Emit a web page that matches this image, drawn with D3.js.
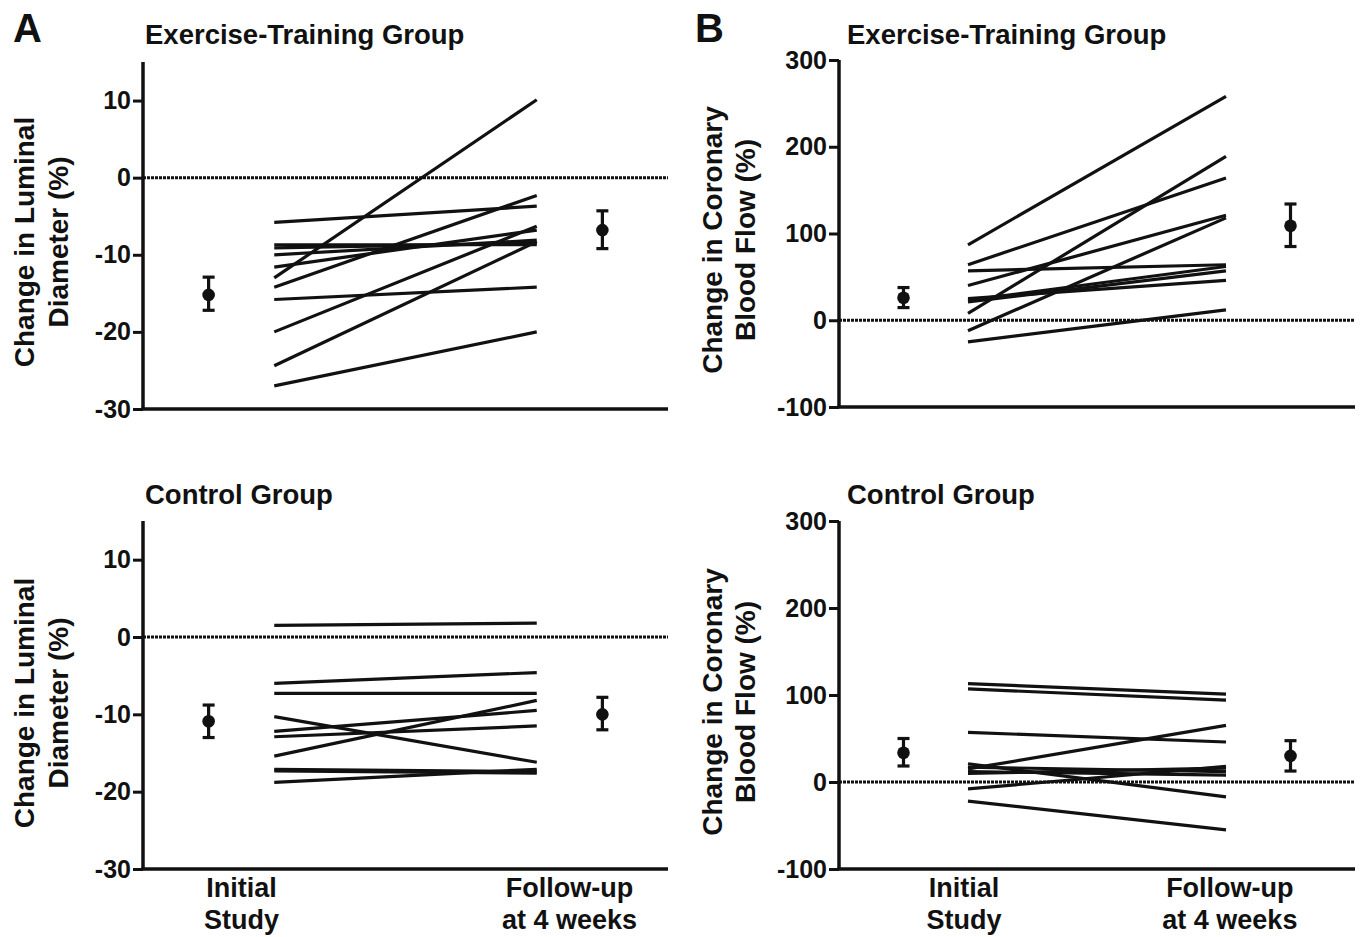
<!DOCTYPE html>
<html>
<head>
<meta charset="utf-8">
<script src="https://cdn.jsdelivr.net/npm/d3@7"></script>
<style>
  body { margin: 0; background: #fff; }
  text { font-family: "Liberation Sans", Arial, Helvetica, sans-serif; font-weight: bold; fill: #111; }
</style>
</head>
<body>
<svg id="chart" width="1361" height="937"></svg>
<script>
// stage positions on the x scale (0..4): means sit outside the paired lines
const stages = [1, 3];
const meanStages = [0.5, 3.5];
const categories = [["Initial", "Study"], ["Follow-up", "at 4 weeks"]];

// A - change in luminal diameter (%)
const diamTrainInitial = [-5.8, -8.7, -9.1, -10.0, -11.6, -13.0, -14.2, -15.8, -20.0, -24.4, -27.0];
const diamTrainFollow  = [-3.7, -8.7, -8.5, -8.1, -6.8, 10.1, -2.3, -14.2, -6.3, -8.3, -20.0];
const diamTrainMean  = [-15.2, -6.8];
const diamTrainLow   = [-17.2, -9.2];
const diamTrainHigh  = [-12.9, -4.3];

const diamCtrlInitial = [1.5, -6.0, -7.3, -10.3, -12.2, -12.9, -15.4, -17.1, -17.3, -18.8];
const diamCtrlFollow  = [1.8, -4.6, -7.3, -16.2, -9.5, -11.5, -8.2, -17.4, -17.6, -17.1];
const diamCtrlMean  = [-10.9, -10.0];
const diamCtrlLow   = [-13.0, -12.0];
const diamCtrlHigh  = [-8.8, -7.8];

const diamTicks = [10, 0, -10, -20, -30];

// B - change in coronary blood flow (%)
const flowTrainInitial = [87, 64, 57, 40, 25, 23, 21, 8, -12, -25];
const flowTrainFollow  = [258, 164, 64, 121, 46, 62, 57, 189, 118, 12];
const flowTrainMean  = [26, 109];
const flowTrainLow   = [14.6, 85];
const flowTrainHigh  = [37.7, 134];

const flowCtrlInitial = [113, 107, 57, 21, 17, 15, 12, 10, -8, -22];
const flowCtrlFollow  = [101, 94, 46, -17, 12, 65, 8, 16, 18, -55];
const flowCtrlMean  = [33.7, 30];
const flowCtrlLow   = [18.4, 12.6];
const flowCtrlHigh  = [50, 47.5];

const flowTicks = [300, 200, 100, 0, -100];

const panels = [
  { title: "Exercise-Training Group", yTitle: ["Change in Luminal", "Diameter (%)"],
    domain: [-30, 15], ticks: diamTicks, x0: 143, x1: 668, top: 62, bottom: 409,
    initial: diamTrainInitial, follow: diamTrainFollow, mean: diamTrainMean, low: diamTrainLow, high: diamTrainHigh,
    titleX: 145, titleY: 44, yTitleX: [34, 68], yTitleY: 242 },
  { title: "Control Group", yTitle: ["Change in Luminal", "Diameter (%)"],
    domain: [-30, 15], ticks: diamTicks, x0: 143, x1: 668, top: 521, bottom: 869,
    initial: diamCtrlInitial, follow: diamCtrlFollow, mean: diamCtrlMean, low: diamCtrlLow, high: diamCtrlHigh,
    titleX: 145, titleY: 504, yTitleX: [34, 68], yTitleY: 703, catAt: [0.75, 3.25] },
  { title: "Exercise-Training Group", yTitle: ["Change in Coronary", "Blood Flow (%)"],
    domain: [-100, 300], ticks: flowTicks, x0: 839, x1: 1355, top: 60, bottom: 407,
    initial: flowTrainInitial, follow: flowTrainFollow, mean: flowTrainMean, low: flowTrainLow, high: flowTrainHigh,
    titleX: 847, titleY: 44, yTitleX: [722, 755], yTitleY: 240 },
  { title: "Control Group", yTitle: ["Change in Coronary", "Blood Flow (%)"],
    domain: [-100, 300], ticks: flowTicks, x0: 839, x1: 1355, top: 521, bottom: 869,
    initial: flowCtrlInitial, follow: flowCtrlFollow, mean: flowCtrlMean, low: flowCtrlLow, high: flowCtrlHigh,
    titleX: 847, titleY: 504, yTitleX: [722, 755], yTitleY: 702, catAt: [0.97, 3.03] }
];

const svg = d3.select("#chart");

// panel letters
svg.append("text").attr("x", 13).attr("y", 42).style("font-size", "40px").text("A");
svg.append("text").attr("x", 695).attr("y", 42).style("font-size", "40px").text("B");

panels.forEach(p => {
  const x = d3.scaleLinear().domain([0, 4]).range([p.x0, p.x1]);
  const y = d3.scaleLinear().domain(p.domain).range([p.bottom, p.top]);
  const g = svg.append("g");

  // title
  g.append("text").attr("x", p.titleX).attr("y", p.titleY)
    .style("font-size", "27.5px").text(p.title);

  // y axis title (two rotated lines)
  p.yTitle.forEach((t, i) => {
    g.append("text")
      .attr("transform", "translate(" + p.yTitleX[i] + "," + p.yTitleY + ") rotate(-90)")
      .attr("text-anchor", "middle")
      .style("font-size", "28px")
      .text(t);
  });

  // y axis, hyphen minus like the original
  const yaxis = d3.axisLeft(y).tickValues(p.ticks).tickSize(10).tickPadding(2).tickFormat(d => String(d));
  const ya = g.append("g").attr("transform", "translate(" + p.x0 + ",0)").call(yaxis);
  ya.select(".domain").attr("stroke", "#111").attr("stroke-width", 3.5).attr("d", "M0," + p.top + "V" + p.bottom);
  ya.selectAll(".tick line").attr("stroke", "#111").attr("stroke-width", 3);
  ya.selectAll(".tick text").style("font-size", "25px").attr("fill", "#111")
    .style("font-family", "'Liberation Sans', Arial, sans-serif").style("font-weight", "bold");

  // x axis (no ticks)
  g.append("line").attr("x1", p.x0 - 1.5).attr("x2", p.x1).attr("y1", p.bottom).attr("y2", p.bottom)
    .attr("stroke", "#111").attr("stroke-width", 3.5);

  // dotted zero line
  g.append("line").attr("x1", p.x0).attr("x2", p.x1).attr("y1", y(0)).attr("y2", y(0))
    .attr("stroke", "#111").attr("stroke-width", 3).attr("stroke-dasharray", "3,1");

  // paired subject lines
  const line = d3.line().x(d => x(d[0])).y(d => y(d[1]));
  const pairs = p.initial.map((v, i) => [[stages[0], v], [stages[1], p.follow[i]]]);
  g.selectAll(".subject").data(pairs).enter().append("path")
    .attr("class", "subject")
    .attr("d", line)
    .attr("fill", "none").attr("stroke", "#111").attr("stroke-width", 3.2);

  // mean and error bars
  const bars = p.mean.map((m, i) => ({ s: meanStages[i], m: m, lo: p.low[i], hi: p.high[i] }));
  const eb = g.selectAll(".err").data(bars).enter().append("g").attr("class", "err");
  eb.append("line").attr("x1", d => x(d.s)).attr("x2", d => x(d.s))
    .attr("y1", d => y(d.lo)).attr("y2", d => y(d.hi)).attr("stroke", "#111").attr("stroke-width", 3.2);
  eb.append("line").attr("x1", d => x(d.s) - 6).attr("x2", d => x(d.s) + 6)
    .attr("y1", d => y(d.lo)).attr("y2", d => y(d.lo)).attr("stroke", "#111").attr("stroke-width", 3.2);
  eb.append("line").attr("x1", d => x(d.s) - 6).attr("x2", d => x(d.s) + 6)
    .attr("y1", d => y(d.hi)).attr("y2", d => y(d.hi)).attr("stroke", "#111").attr("stroke-width", 3.2);
  eb.append("circle").attr("cx", d => x(d.s)).attr("cy", d => y(d.m)).attr("r", 6.3).attr("fill", "#111");

  // category labels below the bottom panels
  if (p.catAt) {
    categories.forEach((lines, i) => {
      const t = g.append("text").attr("text-anchor", "middle").style("font-size", "27px");
      lines.forEach((s, j) => {
        t.append("tspan").attr("x", x(p.catAt[i])).attr("y", 897 + j * 32).text(s);
      });
    });
  }
});
</script>
</body>
</html>
